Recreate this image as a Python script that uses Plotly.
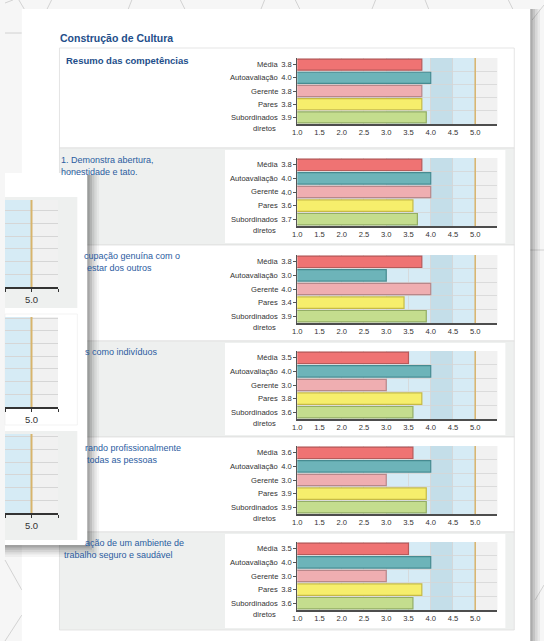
import plotly.graph_objects as go

W, H = 544, 641

# ---------------- data ----------------
categories = ["Média", "Autoavaliação", "Gerente", "Pares", "Subordinados diretos"]
summary_values = [3.8, 4.0, 3.8, 3.8, 3.9]
comp1_values = [3.8, 4.0, 4.0, 3.6, 3.7]
comp2_values = [3.8, 3.0, 4.0, 3.4, 3.9]
comp3_values = [3.5, 4.0, 3.0, 3.8, 3.6]
comp4_values = [3.6, 4.0, 3.0, 3.9, 3.9]
comp5_values = [3.5, 4.0, 3.0, 3.8, 3.6]
x_tick_values = [1.0, 1.5, 2.0, 2.5, 3.0, 3.5, 4.0, 4.5, 5.0]
x_tick_labels = ["1.0", "1.5", "2.0", "2.5", "3.0", "3.5", "4.0", "4.5", "5.0"]
zoom_tick_values = [4.5, 5.0]
zoom_tick_labels = ["4.5", "5.0"]
scale_min, scale_max, axis_max = 1.0, 5.0, 5.5
band_light = (3.0, 5.0)
band_dark = (4.0, 4.5)

section_title = "Construção de Cultura"
summary_title = "Resumo das competências"
row_texts = [
    ["1. Demonstra abertura,", "honestidade e tato."],
    ["cupação genuína com o", "estar dos outros"],
    ["s como indivíduos"],
    ["rando profissionalmente", "todas as pessoas"],
    ["ação de um ambiente de", "trabalho seguro e saudável"],
]

all_values = [summary_values, comp1_values, comp2_values, comp3_values, comp4_values, comp5_values]

# ---------------- styles / geometry ----------------
bar_colors = ["#ef7373", "#6db4b9", "#efaeb1", "#f6ee6c", "#c4dd8e"]
bar_edges = ["#b85a5a", "#468b91", "#b8878a", "#c6ba46", "#93ad66"]
GRAY_ROW = "#eef0ef"
BLUE_LIGHT = "#d6ebf5"
BLUE_DARK = "#c4dee9"
PLOT_BASE = "#f1f1f1"
ORANGE = "#d8b46c"
TXT_BLUE = "#2b5c9f"
TITLE_BLUE = "#234e8a"
LABEL_FONT = "Liberation Sans, Arial, sans-serif"
TEXT_FONT = "Liberation Sans, Arial, sans-serif"
LBL = 7.6

PLOT_L, PLOT_R = 295, 497
chart_px = [(58, 124), (158, 226), (255, 323), (351, 419), (446, 514), (542, 610)]
row_px = [(48, 148), (148, 245), (245, 341), (341, 437), (437, 532), (532, 630)]
row_text_pos = [(55, 160), (78, 256), (79, 352), (79, 448), (79, 543)]
row_text_pos2 = [(55, 172), (81, 268), None, (81, 460), (58, 555)]

frag_px = [  # plot top, axis y, box top, box bottom, gray box?
    (200, 287, 197, 308, True),
    (317, 407, 314, 425, False),
    (434, 513, 431, 540, True),
]
FRAG_R = 53.5


def fx(x):
    return x / W


def fy(y):
    return 1 - y / H


fig = go.Figure()
shapes = []
annotations = []


def rect(x0, y0, x1, y1, fill, line=None, lw=1, layer="below"):
    shapes.append(dict(type="rect", xref="paper", yref="paper",
                       x0=fx(x0), x1=fx(x1), y0=fy(y1), y1=fy(y0),
                       fillcolor=fill, line=dict(color=line or fill, width=lw if line else 0),
                       layer=layer))


def seg(x0, y0, x1, y1, color="#c9c9c9", w=0.8):
    shapes.append(dict(type="line", xref="paper", yref="paper",
                       x0=fx(x0), x1=fx(x1), y0=fy(y0), y1=fy(y1),
                       line=dict(color=color, width=w), layer="below"))


# background pattern (hexagon lines)
for a in [(14, 0, 20, 10), (47, 0, 42, 10), (128, 0, 124, 10), (177, 0, 182, 10),
          (262, 0, 258, 10), (293, 0, 298, 10), (374, 0, 370, 10), (424, 0, 428, 10),
          (508, 0, 513, 10), (0, 33, 17, 33), (0, 3, 8, 0),
          (0, 560, 17, 590), (0, 641, 17, 615), (530, 250, 544, 250),
          (532, 20, 544, 5), (535, 600, 544, 585)]:
    seg(*a)

# card shadow + card
for k, op in enumerate([0.05, 0.07, 0.09, 0.12]):
    rect(530, 9, 530 + 10 - 2.5 * k, 641, "rgba(0,0,0,%.2f)" % op)
rect(17, 9, 530, 645, "#ffffff")

# table rows
for i, (t, b) in enumerate(row_px):
    gray = i % 2 == 1
    rect(55, t, 514, b, GRAY_ROW if gray else "#ffffff", line="#dedede", lw=0.8)
    if gray:
        rect(222, t + 2, 505, b - 2, "#ffffff")

# plot-area backgrounds for main charts
for i in range(6):
    n = "" if i == 0 else str(i + 1)
    xa, ya = "x" + n, "y" + n
    shapes.append(dict(type="rect", xref=xa + " domain", yref=ya + " domain", x0=0, x1=1, y0=0, y1=1,
                       fillcolor=PLOT_BASE, line=dict(width=0), layer="below"))
    shapes.append(dict(type="rect", xref=xa, yref=ya + " domain", x0=band_light[0], x1=band_light[1], y0=0, y1=1,
                       fillcolor=BLUE_LIGHT, line=dict(width=0), layer="below"))
    shapes.append(dict(type="rect", xref=xa, yref=ya + " domain", x0=band_dark[0], x1=band_dark[1], y0=0, y1=1,
                       fillcolor=BLUE_DARK, line=dict(width=0), layer="below"))

# overlay panel (magnified view) with shadow
for k, op in enumerate([0.04, 0.06, 0.08, 0.10, 0.12]):
    d = 12 - 2.4 * k
    rect(0, 175, 83 + d, 545 + d, "rgba(0,0,0,%.2f)" % op)
rect(0, 173, 83, 545, "#ffffff")

for j, (pt, pb, bt, bb, gray) in enumerate(frag_px):
    rect(0, bt, 73, bb, GRAY_ROW if gray else "#ffffff", line=None if gray else "#f0f0f0", lw=0.8)
    n = str(7 + j)
    xa, ya = "x" + n, "y" + n
    shapes.append(dict(type="rect", xref=xa + " domain", yref=ya + " domain", x0=0, x1=1, y0=0, y1=1,
                       fillcolor=PLOT_BASE, line=dict(width=0), layer="below"))
    shapes.append(dict(type="rect", xref=xa, yref=ya + " domain", x0=band_dark[1], x1=band_light[1], y0=0, y1=1,
                       fillcolor=BLUE_LIGHT, line=dict(width=0), layer="below"))

# ---------------- main charts ----------------
cat_idx = list(range(len(categories)))
for i, vals in enumerate(all_values):
    n = "" if i == 0 else str(i + 1)
    t, b = chart_px[i]
    fig.add_trace(go.Bar(
        x=vals, y=cat_idx, orientation="h", width=0.84,
        marker=dict(color=bar_colors, line=dict(color=bar_edges, width=1.2)),
        xaxis="x" + n, yaxis="y" + n, hoverinfo="skip", showlegend=False))
    fig.layout["xaxis" + n] = dict(
        domain=[fx(PLOT_L), fx(PLOT_R)], range=[scale_min, axis_max], anchor="y" + n,
        tickvals=x_tick_values + [axis_max], ticktext=x_tick_labels + [""],
        showgrid=True, gridcolor="#d6d6d6", gridwidth=0.8, zeroline=False,
        showline=True, linecolor="#4d4d4d", linewidth=2, ticks="",
        tickfont=dict(family=LABEL_FONT, size=LBL, color="#333"), fixedrange=True)
    fig.layout["yaxis" + n] = dict(
        domain=[fy(b), fy(t)], range=[4.5, -0.5], anchor="x" + n,
        tickvals=cat_idx, ticktext=["%.1f" % v for v in vals],
        showgrid=False, zeroline=False, showline=True, linecolor="#555", linewidth=1,
        ticks="outside", ticklen=3, tickcolor="#555",
        minor=dict(tickvals=[k - 0.5 for k in range(len(categories) + 1)], showgrid=True,
                   gridcolor="#d6d6d6", gridwidth=0.8, ticks=""),
        tickfont=dict(family=LABEL_FONT, size=LBL, color="#333"), fixedrange=True)
    # category names
    for k, c in enumerate(categories):
        parts = ["Subordinados", "diretos"] if c == "Subordinados diretos" else [c]
        for m, ptxt in enumerate(parts):
            annotations.append(dict(
                text=ptxt, xref="x" + n + " domain", x=0, xshift=-17 - (2 if m else 0),
                yref="y" + n, y=k, yshift=-11 * m, xanchor="right", yanchor="middle",
                showarrow=False, font=dict(family=LABEL_FONT, size=LBL, color="#333")))
    shapes.append(dict(type="line", xref="x" + n, yref="y" + n + " domain", x0=scale_max, x1=scale_max,
                       y0=0, y1=1, line=dict(color=ORANGE, width=1.5), layer="above"))

# ---------------- magnified fragments ----------------
for j, (pt, pb, bt, bb, gray) in enumerate(frag_px):
    n = str(7 + j)
    nrows = (pb - pt) / 12.7
    fig.add_trace(go.Scatter(x=[scale_max], y=[0], mode="markers", marker=dict(opacity=0),
                             xaxis="x" + n, yaxis="y" + n, hoverinfo="skip", showlegend=False))
    fig.layout["xaxis" + n] = dict(
        domain=[0, fx(FRAG_R)], range=[4.5, axis_max], anchor="y" + n,
        tickvals=zoom_tick_values + [axis_max], ticktext=zoom_tick_labels + [""],
        showgrid=True, gridcolor="#d6d6d6", gridwidth=1, zeroline=False,
        showline=True, linecolor="#333", linewidth=2, ticks="outside", ticklen=3, tickcolor="#333",
        tickfont=dict(family=LABEL_FONT, size=9.5, color="#333"), fixedrange=True)
    fig.layout["yaxis" + n] = dict(
        domain=[fy(pb), fy(pt)], range=[0, nrows], anchor="x" + n, visible=True,
        showticklabels=False, ticks="", dtick=1, tick0=0,
        showgrid=True, gridcolor="#d6d6d6", gridwidth=1, zeroline=False, showline=False,
        fixedrange=True)
    shapes.append(dict(type="line", xref="x" + n, yref="y" + n + " domain", x0=scale_max, x1=scale_max,
                       y0=0, y1=1, line=dict(color=ORANGE, width=2), layer="above"))

# ---------------- texts ----------------
annotations.append(dict(text="<b>%s</b>" % section_title, xref="paper", yref="paper",
                        x=fx(53), y=fy(38), xanchor="left", yanchor="middle", showarrow=False,
                        font=dict(family=TEXT_FONT, size=10.5, color=TITLE_BLUE)))
annotations.append(dict(text="<b>%s</b>" % summary_title, xref="paper", yref="paper",
                        x=fx(60), y=fy(60), xanchor="left", yanchor="middle", showarrow=False,
                        font=dict(family=TEXT_FONT, size=9.5, color=TITLE_BLUE)))
for i, lines in enumerate(row_texts):
    for m, line in enumerate(lines):
        pos = row_text_pos[i] if m == 0 else row_text_pos2[i]
        annotations.append(dict(text=line, xref="paper", yref="paper",
                                x=fx(pos[0]), y=fy(pos[1]), xanchor="left", yanchor="middle",
                                showarrow=False, font=dict(family=TEXT_FONT, size=9, color=TXT_BLUE)))

fig.update_layout(
    width=W, height=H, autosize=False,
    margin=dict(l=0, r=0, t=0, b=0, pad=0),
    paper_bgcolor="#f6f6f6", plot_bgcolor="rgba(0,0,0,0)",
    shapes=shapes, annotations=annotations, bargap=0.2,
    showlegend=False,
)

fig.write_html("out.html", config={"displayModeBar": False, "staticPlot": True},
               post_script="document.body.style.margin='0';document.body.style.overflow='hidden';")
